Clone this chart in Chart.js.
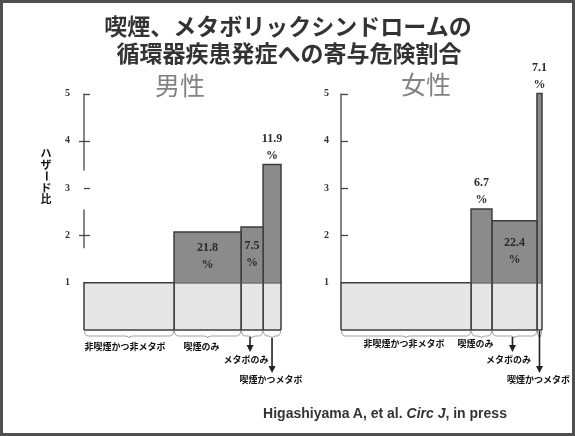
<!DOCTYPE html>
<html lang="ja">
<head>
<meta charset="utf-8">
<script src="https://cdn.jsdelivr.net/npm/chart.js@4.4.1/dist/chart.umd.min.js"></script>
<style>
  html, body { margin: 0; padding: 0; background: #fff; }
  #page { position: relative; width: 575px; height: 436px; overflow: hidden; background: #fff; }
  #page canvas { position: absolute; left: 0; top: 0; }
  .txt { position: absolute; transform: translate(-50%, -50%); white-space: nowrap; line-height: 1; }
  .title { font-family: "Noto Sans CJK JP", sans-serif; font-weight: 700; font-size: 23px; color: #333; }
  .panel { font-family: "Noto Sans CJK JP", sans-serif; font-weight: 400; font-size: 25px; color: #828282; }
  .cite { font-family: "Liberation Sans", Arial, sans-serif; font-weight: 700; font-size: 14px; color: #333; }
  #frame { position: absolute; left: 0; top: 0; width: 575px; height: 436px; box-sizing: border-box; border: 3px solid #505050; pointer-events: none; }
</style>
</head>
<body>
<div id="page">
  <canvas id="maleChart" width="575" height="436"></canvas>
  <canvas id="femaleChart" width="575" height="436"></canvas>
  <div class="txt title" style="left:288px; top:25px;">喫煙、メタボリックシンドロームの</div>
  <div class="txt title" style="left:289px; top:52px;">循環器疾患発症への寄与危険割合</div>
  <div class="txt panel" id="maleName" style="left:180px; top:84px;"></div>
  <div class="txt panel" id="femaleName" style="left:426px; top:83px;"></div>
  <div class="txt cite" style="left:385px; top:413px;">Higashiyama A, et al. <i>Circ J</i>, in press</div>
  <div id="frame"></div>
</div>
<script>
// Groups by smoking / metabolic syndrome status
const groups = ['非喫煙かつ非メタボ', '喫煙のみ', 'メタボのみ', '喫煙かつメタボ'];
const panelNames = ['男性', '女性'];

// Share of each group in the cohort (%) -> bar width
const maleShare = [45.7, 34.0, 11.2, 9.1];
const femaleShare = [64.7, 10.4, 22.4, 2.5];

// Hazard ratio of each group (reference group = 1)
const maleHR = [1, 2.07, 2.18, 3.5];
const femaleHR = [1, 2.56, 2.31, 5.0];

// Population attributable fraction (%)
const malePAF = [null, 21.8, 7.5, 11.9];
const femalePAF = [null, 6.7, 22.4, 7.1];

// Where each PAF label sits: inside the excess block or above it
const malePAFPlace = [null, 'in', 'in', 'out'];
const femalePAFPlace = [null, 'out', 'in', 'out'];

const hrTicks = [1, 2, 3, 4, 5];
const yAxisTitle = 'ハザード比';

document.getElementById('maleName').textContent = panelNames[0];
document.getElementById('femaleName').textContent = panelNames[1];

const LIGHT = '#e6e6e6';
const DARK = '#8b8b8b';
const EDGE = '#3c3c3c';
const INK = '#222';

function buildDatasets(share, hr) {
  const sets = [];
  let cum = 0;
  share.forEach((w, i) => {
    const x0 = cum, x1 = cum + w;
    cum = x1;
    // reference-level block (hazard 0..1)
    sets.push({
      data: [{x: x0, y: 0}, {x: x0, y: 1}, {x: x1, y: 1}, {x: x1, y: 0}],
      showLine: true, fill: {value: 0}, backgroundColor: LIGHT,
      borderColor: EDGE, borderWidth: 1.5, pointRadius: 0, order: 3, clip: false
    });
    // excess hazard block (1..HR)
    if (hr[i] > 1) {
      sets.push({
        data: [{x: x0, y: 1}, {x: x0, y: hr[i]}, {x: x1, y: hr[i]}, {x: x1, y: 1}],
        showLine: true, fill: {value: 1}, backgroundColor: DARK,
        borderColor: EDGE, borderWidth: 1.5, pointRadius: 0, order: 2, clip: false
      });
    }
  });
  // bottom edge of the reference blocks
  sets.push({
    data: [{x: 0, y: 0}, {x: cum, y: 0}],
    showLine: true, fill: false, borderColor: EDGE, borderWidth: 1.5,
    pointRadius: 0, order: 1, clip: false
  });
  return sets;
}

function arrow(ctx, x, y0, y1) {
  ctx.save();
  ctx.strokeStyle = INK;
  ctx.fillStyle = INK;
  ctx.lineWidth = 1.6;
  ctx.beginPath();
  ctx.moveTo(x, y0);
  ctx.lineTo(x, y1 - 5);
  ctx.stroke();
  ctx.beginPath();
  ctx.moveTo(x - 3.5, y1 - 7);
  ctx.lineTo(x + 3.5, y1 - 7);
  ctx.lineTo(x, y1);
  ctx.closePath();
  ctx.fill();
  ctx.restore();
}

// vertical (tategaki) text, one glyph under the other; long-vowel mark turned upright
function drawVertical(ctx, text, cx, yTop, step) {
  [...text].forEach((ch, k) => {
    const cy = yTop + k * step;
    ctx.save();
    ctx.translate(cx, cy);
    if (ch === 'ー') ctx.rotate(Math.PI / 2);
    ctx.fillText(ch, 0, 0);
    ctx.restore();
  });
}

function decorPlugin(cfg) {
  return {
    id: 'panelDecor',
    afterDraw(chart) {
      const ctx = chart.ctx;
      const xs = chart.scales.x, ys = chart.scales.y;
      const ax = chart.chartArea.left;

      // axis line (pieces) and tick marks
      ctx.save();
      ctx.strokeStyle = '#444';
      ctx.lineWidth = 1.3;
      cfg.axisPieces.forEach(([a, b]) => {
        ctx.beginPath();
        ctx.moveTo(ax, ys.getPixelForValue(a));
        ctx.lineTo(ax, ys.getPixelForValue(b));
        ctx.stroke();
      });
      hrTicks.forEach(v => {
        if (v === 1) return;
        const py = Math.round(ys.getPixelForValue(v)) + 0.5;
        const left = (cfg.tickLeft && cfg.tickLeft[v]) || 0;
        ctx.beginPath();
        ctx.moveTo(ax - left, py);
        ctx.lineTo(ax + cfg.tickRight, py);
        ctx.stroke();
      });
      ctx.restore();

      // PAF labels, braces, group names and arrows
      let cum = 0;
      cfg.share.forEach((w, i) => {
        const x0 = cum, x1 = cum + w;
        cum = x1;
        const px0 = xs.getPixelForValue(x0);
        const px1 = xs.getPixelForValue(x1);
        const pc = xs.getPixelForValue((x0 + x1) / 2);
        const base = ys.getPixelForValue(0);

        if (cfg.paf[i] != null) {
          const top = ys.getPixelForValue(cfg.hr[i]);
          const one = ys.getPixelForValue(1);
          let yPct;
          if (cfg.place[i] === 'in') yPct = (top + one) / 2 + 8;
          else yPct = top - 9;
          ctx.save();
          ctx.fillStyle = '#2a2a2a';
          ctx.font = 'bold 12px "Liberation Serif", "Times New Roman", serif';
          ctx.textAlign = 'center';
          ctx.textBaseline = 'middle';
          ctx.fillText(cfg.paf[i].toFixed(1), pc, yPct - 17);
          ctx.fillText('%', pc, yPct);
          ctx.restore();
        }

        // brace under the block
        ctx.save();
        ctx.strokeStyle = '#555';
        ctx.lineWidth = 1;
        const by = base + 1;
        const depth = 5;
        const mid = (px0 + px1) / 2;
        const r = Math.min(4, (px1 - px0) / 4);
        ctx.beginPath();
        ctx.moveTo(px0 + 0.5, by);
        ctx.quadraticCurveTo(px0 + 0.5, by + depth, px0 + r + 0.5, by + depth);
        ctx.lineTo(mid - r, by + depth);
        ctx.quadraticCurveTo(mid, by + depth, mid, by + depth + 2);
        ctx.quadraticCurveTo(mid, by + depth, mid + r, by + depth);
        ctx.lineTo(px1 - r - 0.5, by + depth);
        ctx.quadraticCurveTo(px1 - 0.5, by + depth, px1 - 0.5, by);
        ctx.globalAlpha = 0.55;
        ctx.stroke();
        ctx.restore();

        // group name
        ctx.save();
        ctx.fillStyle = '#111';
        ctx.font = 'bold 9px "Noto Sans CJK JP", sans-serif';
        ctx.textAlign = 'center';
        ctx.textBaseline = 'middle';
        if (i < 2) {
          ctx.fillText(groups[i], pc + cfg.nameShift[i], cfg.nameY);
        } else if (i === 2) {
          arrow(ctx, pc - 2, base + 7, base + 22);
          ctx.fillText(groups[i], pc - 6, base + 30);
        } else {
          arrow(ctx, pc, base + cfg.longArrowStart, base + 43);
          ctx.fillText(groups[i], pc - 1, base + 50);
        }
        ctx.restore();
      });

      // vertical axis title
      if (cfg.showTitle) {
        ctx.save();
        ctx.fillStyle = '#111';
        ctx.font = 'bold 11px "Noto Sans CJK JP", sans-serif';
        ctx.textAlign = 'center';
        ctx.textBaseline = 'middle';
        drawVertical(ctx, yAxisTitle, 46, 153, 11.5);
        ctx.restore();
      }
    }
  };
}

function makePanel(id, share, hr, paf, place, opt) {
  const total = share.reduce((a, b) => a + b, 0);
  return new Chart(document.getElementById(id), {
    type: 'scatter',
    data: { datasets: buildDatasets(share, hr) },
    options: {
      responsive: false,
      animation: false,
      devicePixelRatio: 1,
      layout: { padding: opt.padding },
      plugins: { legend: { display: false }, tooltip: { enabled: false }, title: { display: false } },
      events: [],
      scales: {
        x: { type: 'linear', min: 0, max: total, display: false },
        y: {
          type: 'linear', min: 0, max: 5,
          afterFit(scale) { scale.width = 40; },
          grid: { display: false, drawTicks: false },
          border: { display: false },
          ticks: {
            stepSize: 1,
            padding: opt.tickPad,
            color: '#333',
            font: { family: '"Liberation Serif", serif', weight: 'bold', size: 10 },
            callback: v => (hrTicks.includes(v) ? String(v) : '')
          }
        }
      }
    },
    plugins: [decorPlugin({
      share, hr, paf, place,
      axisPieces: opt.axisPieces,
      tickLeft: opt.tickLeft,
      tickRight: opt.tickRight,
      nameY: opt.nameY,
      nameShift: opt.nameShift,
      longArrowStart: opt.longArrowStart,
      showTitle: opt.showTitle
    })]
  });
}

makePanel('maleChart', maleShare, maleHR, malePAF, malePAFPlace, {
  padding: { left: 44, top: 93.5, right: 294, bottom: 106 },
  tickPad: 14,
  axisPieces: [[3.37, 5], [1.73, 2.55]],
  tickLeft: { 2: 5, 4: 5 },
  tickRight: 6,
  nameY: 347,
  nameShift: [-4, -6],
  longArrowStart: 8,
  showTitle: true
});

makePanel('femaleChart', femaleShare, femaleHR, femalePAF, femalePAFPlace, {
  padding: { left: 301, top: 93.5, right: 33, bottom: 106 },
  tickPad: 12,
  axisPieces: [[1, 5]],
  tickLeft: {},
  tickRight: 7,
  nameY: 344,
  nameShift: [-2, -6],
  longArrowStart: 1,
  showTitle: false
});
</script>
</body>
</html>
